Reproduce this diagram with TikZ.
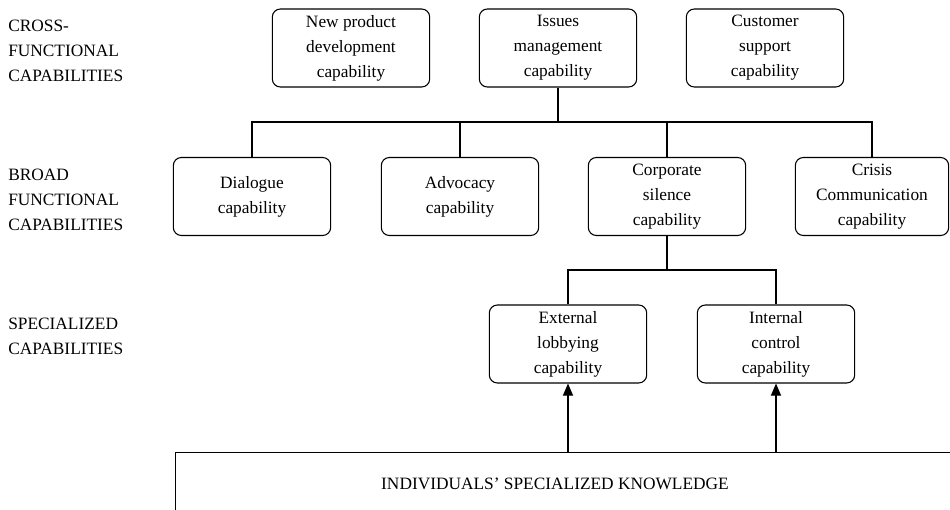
\documentclass[tikz,border=0pt]{standalone}
\usepackage{fontspec}
\setmainfont{Liberation Serif}
\usetikzlibrary{arrows.meta}
\begin{document}
\begin{tikzpicture}[x=0.75pt,y=-0.75pt,
  capbox/.style={draw=black, line width=0.8pt, rounded corners=6pt,
    minimum width=118pt, minimum height=58.5pt, align=center,
    inner sep=2pt, font=\fontsize{13}{18.75}\selectfont},
  levellabel/.style={anchor=north west, align=left, inner sep=0pt,
    font=\fontsize{13}{18.75}\selectfont},
  link/.style={line width=0.8pt},
  trunk/.style={line width=1.4pt},
  feed/.style={line width=0.8pt, -{Triangle[length=9pt,width=7.5pt]}}]
\useasboundingbox (0,0) rectangle (950,510);
\clip (0,0) rectangle (950,510);

% level labels on the left
\node[levellabel] (lcross) at (8,20) {CROSS-\\FUNCTIONAL\\CAPABILITIES};
\node[levellabel] (lbroad) at (8,169) {BROAD\\FUNCTIONAL\\CAPABILITIES};
\node[levellabel] (lspec) at (8,318) {SPECIALIZED\\CAPABILITIES};

% cross-functional capabilities
\node[capbox] (npd) at (351,48) {New product\\development\\capability};
\node[capbox] (iss) at (558,48) {Issues\\management\\capability};
\node[capbox] (cus) at (765,48) {Customer\\support\\capability};

% broad functional capabilities
\node[capbox] (dia) at (252,196.5) {Dialogue\\capability};
\node[capbox] (adv) at (460,196.5) {Advocacy\\capability};
\node[capbox] (cor) at (667,196.5) {Corporate\\silence\\capability};
\node[capbox, minimum width=115pt] (cri) at (872,196.5) {Crisis\\Communication\\capability};

% specialized capabilities
\node[capbox] (ext) at (568,344) {External\\lobbying\\capability};
\node[capbox] (int) at (776,344) {Internal\\control\\capability};

% knowledge base
\node[draw=black, line width=0.8pt, anchor=north west,
  minimum width=700pt, minimum height=120pt] (know) at (175,452) {};
\node[font=\fontsize{13}{18.75}\selectfont] (knowtext) at (555,484)
  {INDIVIDUALS’ SPECIALIZED KNOWLEDGE};

% tree connectors
\coordinate (bar1) at (0,122);
\coordinate (bar2) at (0,270);
\draw[trunk] (iss.south) -- (iss.south |- bar1);
\draw[link] (dia.north) -- (dia.north |- bar1) -- (cri.north |- bar1) -- (cri.north);
\draw[link] (adv.north) -- (adv.north |- bar1);
\draw[link] (cor.north) -- (cor.north |- bar1);
\draw[trunk] (cor.south) -- (cor.south |- bar2);
\draw[link] (ext.north) -- (ext.north |- bar2) -- (int.north |- bar2) -- (int.north);

% knowledge feeding the specialized capabilities
\draw[feed] (ext.south |- know.north) -- (ext.south);
\draw[feed] (int.south |- know.north) -- (int.south);
\end{tikzpicture}
\end{document}
